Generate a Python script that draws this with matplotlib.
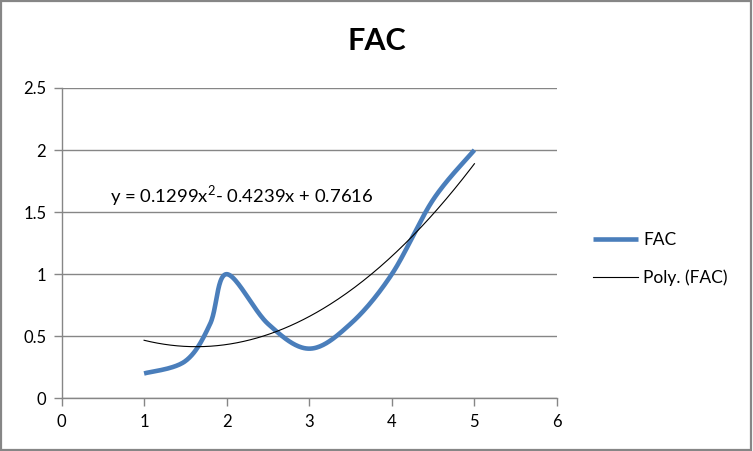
import numpy as np
import matplotlib
matplotlib.use("Agg")
import matplotlib.pyplot as plt
from matplotlib.patches import Rectangle

# ---- data ----
x_vals = [1.0, 1.5, 1.8, 2.0, 2.5, 3.0, 3.5, 4.0, 4.5, 5.0]
fac_vals = [0.2, 0.3, 0.6, 1.0, 0.6, 0.4, 0.6, 1.0, 1.6, 2.0]
x_ticks = [0, 1, 2, 3, 4, 5, 6]
y_ticks = [0, 0.5, 1, 1.5, 2, 2.5]
y_tick_labels = ["0", "0.5", "1", "1.5", "2", "2.5"]
title = "FAC"
series_label = "FAC"
trend_label = "Poly. (FAC)"
eq_text = "y = 0.1299x$^2$- 0.4239x + 0.7616"

FONT = ["Lato", "DejaVu Sans"]
plt.rcParams['font.family'] = FONT
plt.rcParams['mathtext.fontset'] = 'custom'
plt.rcParams['mathtext.rm'] = 'Lato'


def catmull_rom(xs, ys, n=40):
    xs = np.asarray(xs, float); ys = np.asarray(ys, float)
    P = np.column_stack([xs, ys])
    P = np.vstack([P[0], P, P[-1]])
    out = []
    t = np.linspace(0, 1, n)
    for i in range(1, len(P) - 2):
        p0, p1, p2, p3 = P[i - 1], P[i], P[i + 1], P[i + 2]
        c1 = p1 + (p2 - p0) / 6
        c2 = p2 - (p3 - p1) / 6
        seg = ((1 - t)[:, None] ** 3 * p1 + 3 * ((1 - t) ** 2 * t)[:, None] * c1
               + 3 * ((1 - t) * t ** 2)[:, None] * c2 + (t ** 3)[:, None] * p2)
        out.append(seg if i == 1 else seg[1:])
    s = np.vstack(out)
    return s[:, 0], s[:, 1]


W, H = 753, 451
fig = plt.figure(figsize=(W / 100, H / 100), dpi=100)
fig.patch.set_facecolor("white")
L, R, T, B = 61.5, 557, 88, 398.3
ax = fig.add_axes([L / W, 1 - B / H, (R - L) / W, (B - T) / H])

sx, sy = catmull_rom(x_vals, fac_vals)
ax.plot(sx, sy, color="#4A7EBB", lw=3.3, solid_capstyle="butt", label=series_label, zorder=3)
coef = np.polyfit(x_vals, fac_vals, 2)
tx = np.linspace(min(x_vals), max(x_vals), 200)
ax.plot(tx, np.polyval(coef, tx), color="black", lw=0.8, label=trend_label, zorder=4)

ax.set_xlim(0, 6)
ax.set_ylim(0, 2.5)
ax.set_xticks(x_ticks)
ax.set_yticks(y_ticks)
ax.set_xticklabels([str(v) for v in x_ticks])
ax.set_yticklabels(y_tick_labels)
ax.grid(axis="y", color="#868686", lw=1.0)
ax.set_axisbelow(True)
for s in ["top", "right"]:
    ax.spines[s].set_visible(False)
for s in ["left", "bottom"]:
    ax.spines[s].set_color("#868686")
    ax.spines[s].set_linewidth(1.0)
ax.tick_params(axis="both", direction="out", length=6, width=1.0, color="#868686",
               labelsize=12, labelcolor="black")
ax.tick_params(axis="x", pad=5)
ax.tick_params(axis="y", pad=5)

ax.text(0.59, 1.63, eq_text, fontsize=13.3, ha="left", va="center")

fig.text(377 / W, 1 - 41 / H, title, fontsize=22, fontweight="bold", ha="center", va="center")

ax.legend(loc="center left", bbox_to_anchor=(577 / W, 1 - 259 / H), bbox_transform=fig.transFigure,
          frameon=False, fontsize=12.5, handlelength=2.6, labelspacing=1.2, handletextpad=0.3)

fig.patches.append(Rectangle((0.001, 0.002), 0.997, 0.995, transform=fig.transFigure,
                             fill=False, edgecolor="#868686", lw=1.6))

fig.savefig("out.png", dpi=100, facecolor="white")
